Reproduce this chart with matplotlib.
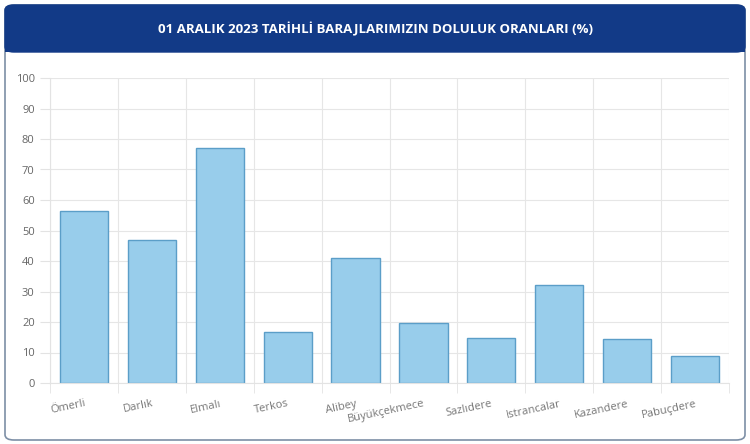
import numpy as np
import matplotlib
matplotlib.use("Agg")
import matplotlib.pyplot as plt
from matplotlib.patches import FancyBboxPatch

plt.rcParams['font.family'] = ['Open Sans', 'DejaVu Sans']

# dam fill rates on 01.12.2023
dams = ["Ömerli", "Darlık", "Elmalı", "Terkos", "Alibey", "Büyükçekmece",
        "Sazlıdere", "Istrancalar", "Kazandere", "Pabuçdere"]
rates = [56.5, 47.0, 77.0, 16.7, 41.0, 19.6, 14.8, 32.1, 14.5, 8.8]
yticks = list(range(0, 101, 10))
title = "01 ARALIK 2023 TARİHLİ BARAJLARIMIZIN DOLULUK ORANLARI (%)"

fig = plt.figure(figsize=(7.5, 4.44), dpi=100)
fig.patch.set_facecolor("white")

# card with rounded border
card = FancyBboxPatch((5/750, 4/444), 740/750, 435/444,
                      boxstyle="round,pad=0,rounding_size=0.012",
                      transform=fig.transFigure, facecolor="white",
                      edgecolor="#7d8fa6", linewidth=1.2, zorder=-2)
fig.patches.append(card)
# blue header
header = FancyBboxPatch((5/750, 392/444), 740/750, 47/444,
                        boxstyle="round,pad=0,rounding_size=0.012",
                        transform=fig.transFigure, facecolor="#123a87",
                        edgecolor="#123a87", linewidth=1, zorder=-1)
fig.patches.append(header)
fig.patches.append(plt.Rectangle((5/750, 392/444), 740/750, 0.02,
                                 transform=fig.transFigure, facecolor="#123a87",
                                 edgecolor="none", zorder=-1))
fig.text(0.5, 1 - 29/444, title, color="white", fontsize=9.5, fontweight="bold",
         ha="center", va="center", zorder=3)

ax = fig.add_axes([50/750, 1 - 383/444, 679/750, 305/444])
ax.set_zorder(2)
ax.set_facecolor("none")
x = np.arange(len(dams))
ax.bar(x, rates, width=0.71, color="#98cdeb", edgecolor="#5b9ec8",
       linewidth=1.0, zorder=2)

ax.set_xlim(-0.5, len(dams) - 0.5)
ax.set_ylim(0, 100)
ax.set_yticks(yticks)
ax.set_yticklabels([str(t) for t in yticks], color="#666666", fontsize=8)
ax.tick_params(axis="y", length=7, color="#e3e3e3", pad=4)

ax.set_xticks(x)
ax.set_xticklabels(dams, rotation=12, ha="right", rotation_mode="anchor",
                   color="#777777", fontsize=8)
ax.tick_params(axis="x", which="major", length=0, pad=11)
ax.set_xticks(np.arange(-0.5, len(dams)), minor=True)
ax.tick_params(axis="x", which="minor", length=7, color="#e3e3e3")

ax.grid(axis="y", color="#e6e6e6", linewidth=0.8, zorder=0)
ax.grid(axis="x", which="minor", color="#e6e6e6", linewidth=0.8, zorder=0)
for s in ["top", "right"]:
    ax.spines[s].set_visible(False)
ax.spines["left"].set_color("#e3e3e3")
ax.spines["bottom"].set_color("#e3e3e3")

fig.savefig("out.png", dpi=100)
